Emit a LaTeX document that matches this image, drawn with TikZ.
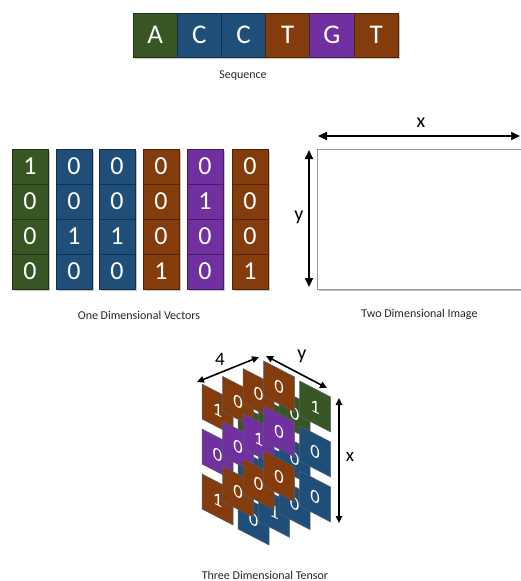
\documentclass[tikz,border=0pt]{standalone}
\usepackage{fontspec}
\setmainfont{Carlito}
\usetikzlibrary{arrows.meta}
\definecolor{cgreen}{RGB}{56,86,35}
\definecolor{cblue}{RGB}{31,78,121}
\definecolor{corange}{RGB}{132,60,12}
\definecolor{cpurple}{RGB}{112,48,160}
\definecolor{ctext}{RGB}{38,38,38}
\definecolor{cedge}{RGB}{85,95,105}
\newcommand\ttile[5]{%
  \path[tilestyle, fill=#4] ({202+36*#2+20.5*#3},{384+45*#1+20*#2-7.7*#3}) coordinate (tl-#1-#2-#3)
    -- ++(31,16) -- ++(0,35) -- ++(-31,-16) -- cycle;
  \if\relax\detokenize{#5}\relax\else
  \begin{scope}[shift={({217.5+36*#2+20.5*#3},{409.5+45*#1+20*#2-7.7*#3})}, yslant=-0.5]
    \node[tdigit] (d-#1-#2-#3) at (0,0) {#5};
  \end{scope}\fi}
\begin{document}
\begin{tikzpicture}[x=1pt,y=-1pt,
  seqbox/.style={minimum width=44.2pt, minimum height=44pt, inner sep=0pt, text=white,
    font=\fontsize{27}{27}\selectfont, fill=#1, draw=#1!60!black, line width=0.7pt},
  vcell/.style={minimum width=36pt, minimum height=35pt, inner sep=0pt, text=white,
    font=\fontsize{26}{26}\selectfont, fill=#1, draw=#1!60!black, line width=0.7pt},
  shadowbox/.style={fill=black!22},
  lbl/.style={text=ctext, font=\fontsize{12}{12}\selectfont, inner sep=0pt},
  dimlbl/.style={text=black, inner sep=0pt},
  dimarrow/.style={line width=2pt, {Triangle[length=9pt,width=8pt]}-{Triangle[length=9pt,width=8pt]}},
  tarrow/.style={line width=1.6pt, {Triangle[length=7pt,width=6.5pt]}-{Triangle[length=7pt,width=6.5pt]}},
  tilestyle/.style={draw=cedge, line width=0.5pt},
  tdigit/.style={text=white, inner sep=0pt, transform shape, font=\fontsize{18.5}{18.5}\selectfont}]
\useasboundingbox (0,0) rectangle (521,581);

% ---------- Sequence ----------
\fill[shadowbox] (134.5,14.5) rectangle (399.5,58.5);
\foreach \i/\clr/\ltr in {0/cgreen/A,1/cblue/C,2/cblue/C,3/corange/T,4/cpurple/G,5/corange/T}{
  \node[seqbox=\clr] (s\i) at ({155.1+44.2*\i},35) {\ltr};
}
\node[lbl] (lseq) at (243,76) {Sequence};

% ---------- One dimensional vectors ----------
\foreach \c/\cx/\clr/\digs in {0/30/cgreen/{1,0,0,0},1/74/cblue/{0,0,1,0},2/117/cblue/{0,0,1,0},
  3/161/corange/{0,0,0,1},4/205/cpurple/{0,1,0,0},5/250/corange/{0,0,0,1}}{
  \fill[shadowbox] ({\cx-16.5},150.5) rectangle ({\cx+19.5},290.5);
  \foreach \d [count=\k from 0] in \digs {
    \node[vcell=\clr] (v\c-\k) at (\cx,{166.5+35*\k}) {\d};
  }
}
\node[lbl] (lvec) at (139,315) {One Dimensional Vectors};

% ---------- Two dimensional image ----------
\fill[black!25] (318.5,150.5) rectangle (523,290.5);
\draw[black!40, fill=white, line width=0.6pt] (317,149) rectangle (523,289);
\coordinate (ix1) at (318,136);
\coordinate (ix2) at (520,136);
\coordinate (iy1) at (309,150);
\coordinate (iy2) at (309,287);
\draw[dimarrow] (ix1) -- (ix2);
\draw[dimarrow] (iy1) -- (iy2);
\node[dimlbl, font=\fontsize{20}{20}\selectfont] (lix) at (421,123) {x};
\node[dimlbl, font=\fontsize{20}{20}\selectfont] (liy) at (299,217) {y};
\node[lbl] (limg) at (419.5,314) {Two Dimensional Image};

% ---------- Three dimensional tensor ----------
% row 0
\ttile{0}{1}{0}{cgreen}{}\ttile{0}{1}{1}{cgreen}{}\ttile{0}{1}{2}{cgreen}{0}\ttile{0}{1}{3}{cgreen}{1}
\ttile{0}{0}{0}{corange}{1}\ttile{0}{0}{1}{corange}{0}\ttile{0}{0}{2}{corange}{0}\ttile{0}{0}{3}{corange}{0}
% row 1
\ttile{1}{1}{0}{cblue}{}\ttile{1}{1}{1}{cblue}{}\ttile{1}{1}{2}{cblue}{0}\ttile{1}{1}{3}{cblue}{0}
\ttile{1}{0}{0}{cpurple}{0}\ttile{1}{0}{1}{cpurple}{0}\ttile{1}{0}{2}{cpurple}{1}\ttile{1}{0}{3}{cpurple}{0}
% row 2
\ttile{2}{1}{0}{cblue}{0}\ttile{2}{1}{1}{cblue}{1}\ttile{2}{1}{2}{cblue}{0}\ttile{2}{1}{3}{cblue}{0}
\ttile{2}{0}{0}{corange}{1}\ttile{2}{0}{1}{corange}{0}\ttile{2}{0}{2}{corange}{0}\ttile{2}{0}{3}{corange}{0}

\coordinate (t4a) at (197,382);
\coordinate (t4b) at (259,357);
\coordinate (tya) at (266,356);
\coordinate (tyb) at (327,388);
\coordinate (txa) at (339,398);
\coordinate (txb) at (339,523);
\draw[tarrow] (t4a) -- (t4b);
\draw[tarrow] (tya) -- (tyb);
\draw[tarrow] (txa) -- (txb);
\node[dimlbl, font=\fontsize{19}{19}\selectfont] (lt4) at (220,359) {4};
\node[dimlbl, font=\fontsize{20}{20}\selectfont] (lty) at (302,356) {y};
\node[dimlbl, font=\fontsize{19}{19}\selectfont] (ltx) at (350,457) {x};
\node[lbl] (lten) at (265,575) {Three Dimensional Tensor};
\end{tikzpicture}
\end{document}
